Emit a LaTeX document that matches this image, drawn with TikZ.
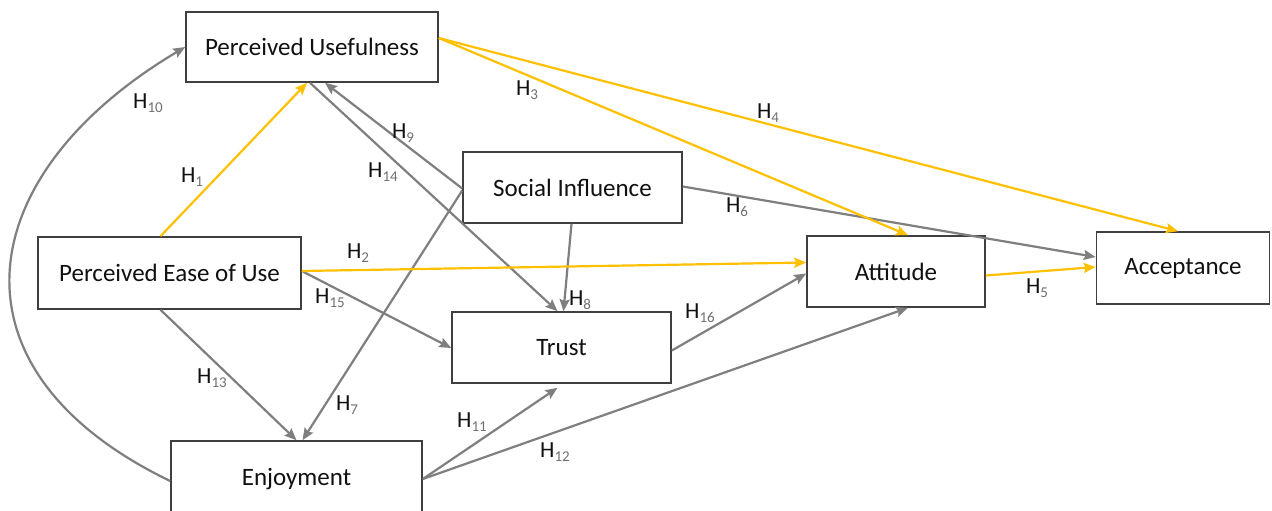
\documentclass[tikz,border=0pt]{standalone}
\usepackage{fontspec}
\setmainfont{Carlito}
\usetikzlibrary{arrows.meta}
\definecolor{arrgray}{HTML}{7F7F7F}
\definecolor{gold}{HTML}{FFC000}
\definecolor{boxline}{HTML}{3F3F3F}
\definecolor{subgray}{HTML}{707070}
\definecolor{txt}{HTML}{111111}
\newcommand{\hyp}[1]{H\raisebox{-0.4ex}{\fontsize{15}{15}\selectfont\color{subgray}#1}}
\begin{document}
\begin{tikzpicture}[x=1pt,y=-1pt,
  box/.style={draw=boxline,line width=1.6pt,fill=white,inner sep=0pt,text=txt,font=\fontsize{25}{30}\selectfont},
  lab/.style={inner sep=0pt,text=txt,font=\fontsize{23}{27}\selectfont},
  garr/.style={draw=arrgray,line width=2.2pt,-{Stealth[length=12pt,width=10pt,inset=2pt]}},
  yarr/.style={draw=gold,line width=2.2pt,-{Stealth[length=12pt,width=10pt,inset=2pt]}}]
\clip (0,0) rectangle (1272,511);
\fill[white] (0,0) rectangle (1272,511);
% boxes
\node[box,minimum width=252pt,minimum height=70pt] (PU) at (312,47) {Perceived Usefulness};
\node[box,minimum width=219pt,minimum height=71pt] (SI) at (572.5,187.5) {Social Influence};
\node[box,minimum width=263pt,minimum height=72pt] (PEOU) at (169.5,273) {Perceived Ease of Use};
\node[box,minimum width=178pt,minimum height=71pt] (Att) at (896,271.5) {Attitude};
\node[box,minimum width=173pt,minimum height=72pt] (Acc) at (1183,268) {Acceptance};
\node[box,minimum width=219pt,minimum height=71pt] (Tr) at (561.5,347.5) {Trust};
\node[box,minimum width=251pt,minimum height=76pt] (Enj) at (296.5,479) {Enjoyment};
% gray arrows
\draw[garr] ([yshift=-2pt]Enj.west) .. controls (-60,370) and (-30,175) .. (PU.west);
\draw[garr] ([yshift=-1pt]SI.west) -- ([xshift=13pt]PU.south);
\draw[garr] ([xshift=-2pt]PU.south) -- ([xshift=-4pt]Tr.north);
\draw[garr] ([xshift=-1pt]SI.south) -- ([xshift=2pt]Tr.north);
\draw[garr] ([yshift=-3pt]SI.west) -- ([xshift=6pt]Enj.north);
\draw[garr] ([xshift=-9pt]PEOU.south) -- ([xshift=0pt]Enj.north);
\draw[garr] ([yshift=2pt]PEOU.east) -- ([yshift=-0.5pt]Tr.west);
\draw[garr] ([yshift=1pt]SI.east) -- ([yshift=11pt]Acc.west);
\draw[garr] ([yshift=-3pt]Tr.east) -- ([yshift=-2pt]Att.west);
\draw[garr] (Enj.east) -- ([xshift=-4pt,yshift=-4pt]Tr.south);
\draw[garr] (Enj.east) -- ([xshift=12pt]Att.south);
% yellow arrows
\draw[yarr] ([xshift=-9pt]PEOU.north) -- ([xshift=-5pt]PU.south);
\draw[yarr] ([yshift=2pt]PEOU.east) -- ([yshift=9pt]Att.west);
\draw[yarr] ([yshift=9pt]PU.east) -- ([xshift=12pt]Att.north);
\draw[yarr] ([yshift=9pt]PU.east) -- ([xshift=-5pt]Acc.north);
\draw[yarr] ([yshift=-4pt]Att.east) -- ([yshift=1pt]Acc.west);
% labels
\node[lab] (l1) at (192,177) {\hyp{1}};
\node[lab] (l2) at (358,253) {\hyp{2}};
\node[lab] (l3) at (527,90) {\hyp{3}};
\node[lab] (l4) at (768,113) {\hyp{4}};
\node[lab] (l5) at (1037,288) {\hyp{5}};
\node[lab] (l6) at (737,207) {\hyp{6}};
\node[lab] (l7) at (347,405) {\hyp{7}};
\node[lab] (l8) at (580,300) {\hyp{8}};
\node[lab] (l9) at (403,133) {\hyp{9}};
\node[lab] (l10) at (148,103) {\hyp{10}};
\node[lab] (l11) at (472,422) {\hyp{11}};
\node[lab] (l12) at (555,452) {\hyp{12}};
\node[lab] (l13) at (212,378) {\hyp{13}};
\node[lab] (l14) at (383,172) {\hyp{14}};
\node[lab] (l15) at (330,298) {\hyp{15}};
\node[lab] (l16) at (700,313) {\hyp{16}};
\end{tikzpicture}
\end{document}
